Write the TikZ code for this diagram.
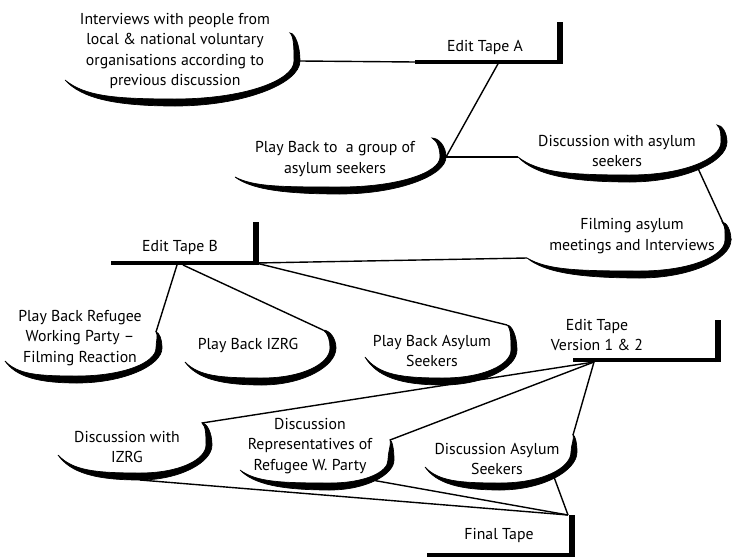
\documentclass[tikz,border=0pt]{standalone}
\usepackage{fontspec}
\setmainfont{PT Sans}
\begin{document}
\begin{tikzpicture}[x=1pt,y=-1pt,
  lbl/.style={align=center,font=\fontsize{15.8}{20.5}\selectfont,inner sep=0pt},
  conn/.style={line width=1.4pt},
  barh/.style={line width=4.5pt},
  barv/.style={line width=6pt},
  pics/sw/.style n args={6}{code={
    \filldraw[line width=0.7pt] (0,0) .. controls ({0.15*(#1)},{0.7*(#2)}) and ({0.45*(#1)},{#2}) .. (#1,#2)
      .. controls ({(#1)+0.55*((#3)-(#1))},{#2}) and (#3,{(#4)+0.5*((#2)-(#4))}) .. (#3,#4)
      .. controls (#3,{(#4)+0.55*((#6)-(#4))}) and ({(#5)+0.5*((#3)-(#5))},#6) .. (#5,#6)
      .. controls ({(#5)+0.4*((#3)-(#5))},{(#6)+3}) and ({(#3)-6},{(#4)+0.4*((#6)-(#4))}) .. ({(#3)-6},#4)
      .. controls ({(#3)-6},{(#4)+0.5*((#2)-(#4))-3}) and ({(#1)+0.55*((#3)-(#1))},{(#2)-7}) .. (#1,{(#2)-7})
      .. controls ({0.45*(#1)},{(#2)-7}) and ({0.18*(#1)},{0.7*(#2)-2}) .. (0,0) -- cycle;
    \coordinate (-L) at (0,0);
    \coordinate (-B) at (#1,#2);
    \coordinate (-R) at (#3,#4);
    \coordinate (-T) at (#5,#6);
    \coordinate (-BR) at ({(4*(#1)+1.65*((#3)-(#1))+4*(#3))/8},{(4*(#2)+1.5*((#2)-(#4))+4*(#4))/8});
  }}]
\useasboundingbox (0,0) rectangle (733,557);

% swooshes
\pic (s1) at (65,80) {sw={110}{26}{235}{-19}{225}{-47}};
\pic (s3) at (235,177) {sw={105}{17}{211}{-20}{197}{-39}};
\pic (s4) at (518,157) {sw={112}{25}{209}{-15}{199}{-32}};
\pic (s5) at (527,258) {sw={113}{20}{204}{-18}{195}{-36}};
\pic (s6) at (5,361) {sw={72}{22}{157}{-13}{151}{-29}};
\pic (s7) at (185,362) {sw={77}{23}{151}{-14}{138}{-32}};
\pic (s8) at (365,357) {sw={78}{28}{152}{-7}{142}{-32}};
\pic (s9) at (58,455) {sw={82}{25}{154}{-10}{144}{-32}};
\pic (s10) at (240,470) {sw={90}{20}{154}{-10}{150}{-30}};
\pic (s11) at (425,467) {sw={75}{23}{152}{-15}{148}{-32}};

% labels
\node[lbl] (t1) at (175,51) {Interviews with people from\\local \& national voluntary\\organisations according to\\previous discussion};
\node[lbl] (t3) at (335,159) {Play Back to~ a group of\\asylum seekers};
\node[lbl] (t4) at (617,151) {Discussion with asylum\\seekers};
\node[lbl] (t5) at (632,236) {Filming asylum\\meetings and Interviews};
\node[lbl] (t6) at (80,338) {Play Back Refugee\\Working Party –\\Filming Reaction};
\node[lbl] (t7) at (248,345) {Play Back IZRG};
\node[lbl] (t8) at (432,351) {Play Back Asylum\\Seekers};
\node[lbl] (t9) at (127,447) {Discussion with\\IZRG};
\node[lbl] (t10) at (310,446) {Discussion\\Representatives of\\Refugee W. Party};
\node[lbl] (t11) at (497,459) {Discussion Asylum\\Seekers};

% edit tapes
\node[lbl] (ea) at (485,47) {Edit Tape A};
\coordinate (eaL) at (415,62); \coordinate (eaC) at (560,62); \coordinate (eaT) at (560,22);
\coordinate (eaM) at (499,62);
\draw[barh] (eaL) -- (eaC);
\draw[barv] ([yshift=-2pt]eaC) -- (eaT);

\node[lbl] (eb) at (180,247) {Edit Tape B};
\coordinate (ebL) at (111,263); \coordinate (ebC) at (256,263); \coordinate (ebT) at (256,222);
\coordinate (ebM1) at (177,265); \coordinate (ebM2) at (183,265);
\draw[barh] (ebL) -- (ebC);
\draw[barv] ([yshift=-2pt]ebC) -- (ebT);

\node[lbl] (ev) at (597,335) {Edit Tape\\Version 1 \& 2};
\coordinate (evL) at (573,360); \coordinate (evC) at (718,360); \coordinate (evT) at (718,320);
\coordinate (evM) at (594,362);
\draw[barh] (evL) -- (evC);
\draw[barv] ([yshift=-2pt]evC) -- (evT);

\node[lbl] (ft) at (499,535) {Final Tape};
\coordinate (ftL) at (427,555); \coordinate (ftC) at (572,555); \coordinate (ftT) at (572,515);
\coordinate (ftM) at (568,515);
\draw[barh] (ftL) -- (ftC);
\draw[barv] ([yshift=-2pt]ftC) -- (ftT);

% connectors
\draw[conn] (s1-R) -- (eaL);
\draw[conn] (eaM) -- (s3-R);
\draw[conn] (s3-R) -- (s4-L);
\draw[conn] (s4-BR) -- (s5-R);
\draw[conn] (ebC) -- (s5-L);
\draw[conn] (ebM1) -- (s6-T);
\draw[conn] (ebM2) -- (s7-T);
\draw[conn] (ebC) -- (s8-T);
\draw[conn] (evM) -- (s9-T);
\draw[conn] (evM) -- (s10-T);
\draw[conn] (evM) -- (s11-T);
\draw[conn] (s9-B) -- (ftM);
\draw[conn] (s10-BR) -- (ftM);
\draw[conn] (s11-BR) -- (ftM);
\end{tikzpicture}
\end{document}
